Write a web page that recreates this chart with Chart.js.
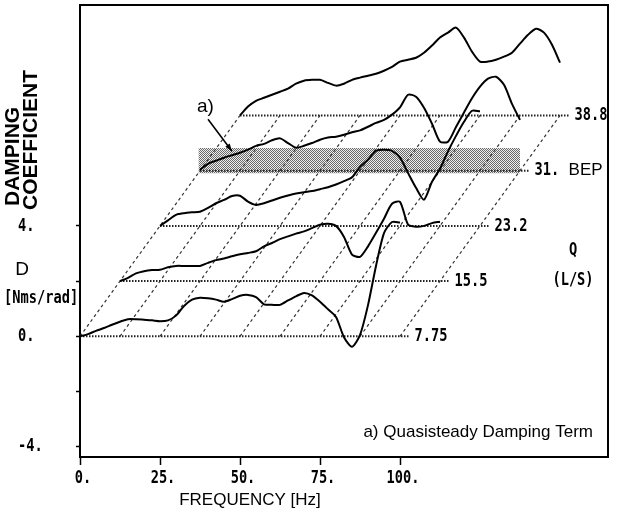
<!DOCTYPE html>
<html>
<head>
<meta charset="utf-8">
<script src="https://cdn.jsdelivr.net/npm/chart.js@4.4.1/dist/chart.umd.min.js"></script>
<style>
  html, body { margin: 0; padding: 0; background: #fff; }
  #box { width: 624px; height: 518px; }
</style>
</head>
<body>
<div id="box"><canvas id="damping-chart"></canvas></div>
<script>
// frequency grid shared by all curves [Hz]
const freqs = [0, 2.5, 5, 7.5, 10, 12.5, 15, 17.5, 20, 22.5, 25, 27.5, 30, 32.5, 35, 37.5, 40,
  42.5, 45, 47.5, 50, 52.5, 55, 57.5, 60, 62.5, 65, 67.5, 70, 72.5, 75, 77.5, 80, 82.5, 85,
  87.5, 90, 92.5, 95, 97.5, 100];

// flow rates Q [L/s]
const flowLabels = ['7.75', '15.5', '23.2', '31.', '38.8'];

// damping coefficient D [Nms/rad] for each flow rate
const damp775 = [0, 0.08, 0.2, 0.3, 0.42, 0.53, 0.62, 0.62, 0.6, 0.58, 0.55, 0.58, 0.75, 1.1, 1.33,
  1.4, 1.38, 1.33, 1.25, 1.35, 1.47, 1.5, 1.42, 1.16, 1.14, 1.14, 1.3, 1.45, 1.57, 1.48, 1.25,
  0.98, 0.7, -0.03, -0.38, 0.05, 1.13, 2.55, 3.74, 4.14, 4.12];
const damp155 = [0, 0.12, 0.28, 0.36, 0.4, 0.41, 0.5, 0.55, 0.55, 0.55, 0.55, 0.66, 0.76, 0.82, 0.9,
  0.97, 1.02, 1.08, 1.26, 1.38, 1.52, 1.62, 1.72, 1.8, 1.92, 2.04, 2.08, 2.0, 1.6, 0.96, 0.88,
  1.26, 1.75, 2.26, 2.8, 2.87, 2.05, 1.97, 2.0, 2.1, 2.15];
const damp232 = [0, 0.2, 0.4, 0.46, 0.49, 0.51, 0.65, 0.82, 0.94, 1.08, 1.09, 0.88, 0.76, 0.82, 0.92,
  1.02, 1.1, 1.17, 1.22, 1.26, 1.33, 1.4, 1.5, 1.62, 1.76, 2.14, 2.4, 2.72, 2.76, 2.72, 2.47,
  1.92, 1.38, 0.95, 1.6, 2.07, 2.7, 3.26, 3.77, 4.17, 4.15];
const damp310 = [0.03, 0.25, 0.36, 0.47, 0.56, 0.65, 0.76, 0.9, 0.97, 1.1, 1.17, 1.0, 0.83, 0.9, 1.0,
  1.12, 1.2, 1.23, 1.3, 1.39, 1.46, 1.59, 1.73, 1.84, 2.03, 2.29, 2.75, 2.68, 2.28, 1.7, 1.05,
  1.05, 1.58, 2.11, 2.62, 3.04, 3.33, 3.4, 3.11, 2.42, 1.84];
const damp388 = [0, 0.32, 0.53, 0.64, 0.75, 0.86, 0.97, 1.15, 1.26, 1.29, 1.29, 1.18, 1.08, 1.15, 1.29,
  1.37, 1.44, 1.51, 1.62, 1.76, 1.95, 2.02, 2.09, 2.27, 2.53, 2.82, 3.0, 3.18, 2.82, 2.31, 1.95,
  1.95, 2.02, 2.13, 2.27, 2.6, 2.92, 3.14, 3.0, 2.56, 1.91];
const curves = [damp775, damp155, damp232, damp310, damp388];

// axis ticks
const xTicks = [0, 25, 50, 75, 100];
const xTickLabels = ['0.', '25.', '50.', '75.', '100.'];
const yTicks = [-4, -2, 0, 2, 4];
const yTickLabels = ['-4.', '', '0.', '', '4.'];

// dotted construction lines of the waterfall
const gridFreqs = [0, 12.5, 25, 37.5, 50, 62.5, 75, 87.5, 100];
const baseEndHz = 103;

// shaded band around best efficiency point (curve 31 L/s)
const bepIndex = 3;
const bepBandHz = [-0.5, 100];
const bepBandD = [-0.09, 0.82];

// waterfall shift per curve
const shiftHz = 12.5;
const shiftD = 2;

// stipple pattern for the BEP band
function stipple() {
  const c = document.createElement('canvas');
  c.width = 2; c.height = 2;
  const g = c.getContext('2d');
  g.fillStyle = '#eeeeee';
  g.fillRect(0, 0, 2, 2);
  g.fillStyle = '#6a6a6a';
  g.fillRect(0, 0, 1, 1);
  g.fillRect(1, 1, 1, 1);
  return g.createPattern(c, 'repeat');
}

const datasets = [];

curves.forEach((vals, k) => {
  datasets.push({
    data: freqs.map((f, i) => ({ x: f + k * shiftHz, y: vals[i] + k * shiftD })),
    borderColor: '#000',
    borderWidth: 2,
    pointRadius: 0,
    tension: 0.25,
    order: 0
  });
});

curves.forEach((vals, k) => {
  datasets.push({
    data: [{ x: k * shiftHz, y: k * shiftD }, { x: baseEndHz + k * shiftHz, y: k * shiftD }],
    borderColor: '#222',
    borderWidth: 2,
    borderDash: [1.5, 1.5],
    pointRadius: 0,
    order: 1
  });
});

const last = curves.length - 1;
gridFreqs.forEach(f => {
  datasets.push({
    data: [{ x: f, y: 0 }, { x: f + last * shiftHz, y: last * shiftD }],
    borderColor: '#333',
    borderWidth: 1.2,
    borderDash: [3, 3],
    pointRadius: 0,
    order: 1
  });
});

datasets.push({
  data: bepBandHz.map(f => ({ x: f + bepIndex * shiftHz, y: bepBandD[1] + bepIndex * shiftD })),
  borderWidth: 0,
  pointRadius: 0,
  backgroundColor: stipple(),
  fill: { value: bepBandD[0] + bepIndex * shiftD },
  order: 2
});

const monoFont = 'bold 18px "DejaVu Sans Mono"';
function monoText(ctx, text, x, y, align) {
  ctx.save();
  ctx.font = monoFont;
  ctx.textBaseline = 'middle';
  ctx.fillStyle = '#000';
  const w = ctx.measureText(text).width * 0.76;
  let x0 = x;
  if (align === 'center') x0 = x - w / 2;
  if (align === 'right') x0 = x - w;
  ctx.translate(x0, y);
  ctx.scale(0.76, 1);
  ctx.textAlign = 'left';
  ctx.fillText(text, 0, 0);
  ctx.restore();
}
function sansText(ctx, text, x, y, font, align) {
  ctx.save();
  ctx.font = font;
  ctx.fillStyle = '#000';
  ctx.textAlign = align || 'left';
  ctx.textBaseline = 'middle';
  ctx.fillText(text, x, y);
  ctx.restore();
}

const labelsPlugin = {
  id: 'labels',
  afterDraw(chart) {
    const ctx = chart.ctx;
    const xs = chart.scales.x, ys = chart.scales.y;
    const area = chart.chartArea;

    // frame top and right
    ctx.save();
    ctx.strokeStyle = '#000';
    ctx.lineWidth = 2;
    ctx.beginPath();
    ctx.moveTo(area.left, area.top);
    ctx.lineTo(area.right, area.top);
    ctx.lineTo(area.right, area.bottom);
    ctx.stroke();
    ctx.restore();

    xTicks.forEach((v, i) => monoText(ctx, xTickLabels[i], xs.getPixelForValue(v) + 3, 478, 'center'));
    yTicks.forEach((v, i) => {
      if (yTickLabels[i]) monoText(ctx, yTickLabels[i], 18, ys.getPixelForValue(v), 'left');
    });

    curves.forEach((vals, k) => {
      const px = xs.getPixelForValue(baseEndHz + k * shiftHz) + 5;
      const py = ys.getPixelForValue(k * shiftD);
      monoText(ctx, flowLabels[k], px, py, 'left');
      if (k === bepIndex) sansText(ctx, 'BEP', px + 34, py, '17px "Liberation Sans"');
    });

    monoText(ctx, 'Q', 573, 250, 'center');
    monoText(ctx, '(L/S)', 573, 280, 'center');
    monoText(ctx, '[Nms/rad]', 4, 298, 'left');
    sansText(ctx, 'D', 22, 270, '19px "Liberation Sans"', 'center');

    sansText(ctx, 'FREQUENCY [Hz]', 250, 500, '17px "Liberation Sans"', 'center');
    sansText(ctx, 'a) Quasisteady Damping Term', 593, 432, '17px "Liberation Sans"', 'right');

    ctx.save();
    ctx.translate(13, 206);
    ctx.rotate(-Math.PI / 2);
    sansText(ctx, 'DAMPING', 0, 0, 'bold 21px "Liberation Sans"', 'left');
    ctx.restore();
    ctx.save();
    ctx.translate(31, 210);
    ctx.rotate(-Math.PI / 2);
    sansText(ctx, 'COEFFICIENT', 0, 0, 'bold 21px "Liberation Sans"', 'left');
    ctx.restore();

    // annotation a) pointing at the BEP curve
    const tipX = xs.getPixelForValue(10 + bepIndex * shiftHz);
    const tipY = ys.getPixelForValue(damp310[4] + bepIndex * shiftD) - 4;
    sansText(ctx, 'a)', tipX - 35, tipY - 44, '19px "Liberation Sans"', 'left');
    ctx.save();
    ctx.strokeStyle = '#000';
    ctx.fillStyle = '#000';
    ctx.lineWidth = 1.5;
    ctx.beginPath();
    ctx.moveTo(tipX - 24, tipY - 32);
    ctx.lineTo(tipX, tipY);
    ctx.stroke();
    const ang = Math.atan2(32, 24);
    ctx.beginPath();
    ctx.moveTo(tipX, tipY);
    ctx.lineTo(tipX - 8 * Math.cos(ang - 0.35), tipY - 8 * Math.sin(ang - 0.35));
    ctx.lineTo(tipX - 8 * Math.cos(ang + 0.35), tipY - 8 * Math.sin(ang + 0.35));
    ctx.closePath();
    ctx.fill();
    ctx.restore();
  }
};

new Chart(document.getElementById('damping-chart'), {
  type: 'line',
  data: { datasets },
  options: {
    responsive: true,
    maintainAspectRatio: false,
    animation: false,
    layout: { padding: { top: 5, right: 16, left: 0, bottom: 0 } },
    plugins: { legend: { display: false }, tooltip: { enabled: false } },
    scales: {
      x: {
        type: 'linear',
        min: 0,
        max: 165,
        afterFit: s => { s.height = 61; },
        afterBuildTicks: s => { s.ticks = xTicks.map(v => ({ value: v })); },
        ticks: { display: false },
        grid: { drawOnChartArea: false, tickLength: 8, tickWidth: 1.5, color: '#000' },
        border: { display: true, color: '#000', width: 2 }
      },
      y: {
        type: 'linear',
        min: -4.37,
        max: 12,
        afterFit: s => { s.width = 80; },
        afterBuildTicks: s => { s.ticks = yTicks.map(v => ({ value: v })); },
        ticks: { display: false },
        grid: { drawOnChartArea: false, tickLength: 4, tickWidth: 1.5, color: '#000' },
        border: { display: true, color: '#000', width: 2 }
      }
    }
  },
  plugins: [labelsPlugin]
});
</script>
</body>
</html>
